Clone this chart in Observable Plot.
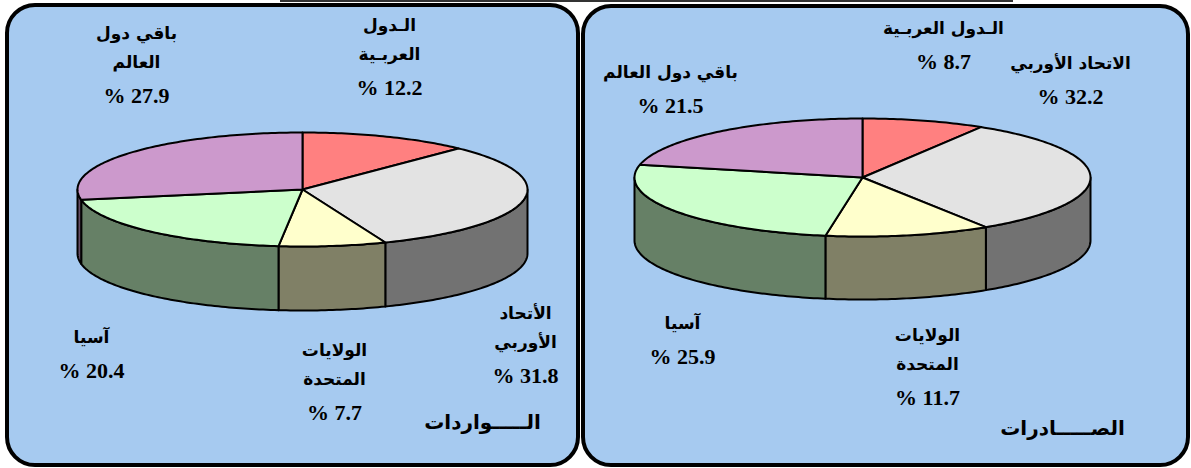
<!DOCTYPE html>
<html><head><meta charset="utf-8">
<script src="https://cdn.jsdelivr.net/npm/d3@7"></script>
<script src="https://cdn.jsdelivr.net/npm/@observablehq/plot@0.6"></script>
<style>
html,body{margin:0;padding:0;background:#fff;}
#wrap{position:relative;width:1191px;height:468px;overflow:hidden;}
.frame{position:absolute;box-sizing:border-box;border:4px solid #000;border-radius:30px;background:#A6CAF0;}
#topline{position:absolute;left:280px;top:0;width:733px;height:2px;background:#333;}
#chart{position:absolute;left:0;top:0;}
</style></head><body>
<div id="wrap">
 <div id="topline"></div>
 <div class="frame" style="left:5px;top:3px;width:575px;height:464px"></div>
 <div class="frame" style="left:581px;top:4px;width:609px;height:463px"></div>
 <div id="chart"></div>
</div>
<script>
// ---- data ----
const categories = ["الدول العربية", "الاتحاد الأوربي", "الولايات المتحدة", "آسيا", "باقي دول العالم"];
const importShares = [12.2, 31.8, 7.7, 20.4, 27.9];
const exportShares = [8.7, 32.2, 11.7, 25.9, 21.5];
const importLabels = ["الـدول\nالعربـية", "الأتحاد\nالأوربي", "الولايات\nالمتحدة", "آسيا", "باقي دول\nالعالم"];
const exportLabels = ["الـدول العربـية", "الاتحاد الأوربي", "الولايات\nالمتحدة", "آسيا", "باقي دول العالم"];
const panelTitles = ["الـــــواردات", "الصـــــادرات"];

// ---- styles / layout ----
const topColors = ["#FF8080", "#E3E3E3", "#FFFFCC", "#CCFFCC", "#CC99CC"];
const sideColor = c => { const r = d3.rgb(c); return d3.rgb(r.r / 2, r.g / 2, r.b / 2).formatHex(); };
const pies = [
  {cx: 302, cy: 189, rx: 225, ry: 57, depth: 64},
  {cx: 862, cy: 177, rx: 228, ry: 59, depth: 63}
];
const labelPos = [
  [[389, 25], [525, 313], [334, 350], [91, 337], [136, 33]],
  [[943, 28], [1070, 63], [927, 335], [682, 323], [670, 72]]
];
const titlePos = [[482, 422], [1062, 428]];
const lineGap = 29, valueGap = 33;

function piePolys(shares, g, panel) {
  const total = d3.sum(shares);
  let acc = 0;
  const sides = [], tops = [];
  const pt = (deg, dz) => { const t = deg * Math.PI / 180; return {x: g.cx + g.rx * Math.sin(t), y: g.cy - g.ry * Math.cos(t) + dz}; };
  const arc = (from, to, dz) => { const n = Math.max(2, Math.ceil(Math.abs(to - from))); return d3.range(n + 1).map(k => pt(from + (to - from) * k / n, dz)); };
  shares.forEach((v, i) => {
    const a0 = acc / total * 360, a1 = (acc + v) / total * 360; acc += v;
    tops.push(...[{x: g.cx, y: g.cy}, ...arc(a0, a1, 0)].map(p => ({...p, id: panel + "-top-" + i, fill: topColors[i], cat: categories[i]})));
    const s0 = Math.max(a0, 90), s1 = Math.min(a1, 270);
    if (s1 > s0) sides.push(...[...arc(s0, s1, 0), ...arc(s1, s0, g.depth)].map(p => ({...p, id: panel + "-side-" + i, fill: sideColor(topColors[i]), cat: categories[i]})));
  });
  return {sides, tops};
}

const P = [piePolys(importShares, pies[0], "imp"), piePolys(exportShares, pies[1], "exp")];
const polys = [...P[0].sides, ...P[1].sides, ...P[0].tops, ...P[1].tops];

const nameLines = [], valueTexts = [];
[[importShares, importLabels], [exportShares, exportLabels]].forEach(([shares, labels], p) => {
  shares.forEach((v, i) => {
    const [x, y] = labelPos[p][i];
    const lines = labels[i].split("\n");
    lines.forEach((t, k) => nameLines.push({x, y: y + k * lineGap, text: t}));
    valueTexts.push({x, y: y + (lines.length - 1) * lineGap + valueGap, text: "% " + v.toFixed(1)});
  });
});
const titles = panelTitles.map((t, p) => ({x: titlePos[p][0], y: titlePos[p][1], text: t}));

const chart = Plot.plot({
  width: 1191, height: 468, margin: 0,
  x: {domain: [0, 1191], range: [0, 1191], axis: null},
  y: {domain: [0, 468], range: [0, 468], axis: null},
  color: {type: "identity"},
  style: {background: "transparent", overflow: "visible"},
  marks: [
    Plot.line(polys, {x: "x", y: "y", z: "id", fill: "fill", stroke: "#000", strokeWidth: 2, curve: "linear-closed", strokeLinejoin: "round"}),
    Plot.text(nameLines, {x: "x", y: "y", text: "text", fontSize: 17, fontWeight: "bold", fontFamily: "DejaVu Sans", fill: "#000"}),
    Plot.text(valueTexts, {x: "x", y: "y", text: "text", fontSize: 22, fontWeight: "bold", fontFamily: "Liberation Serif", fill: "#000"}),
    Plot.text(titles, {x: "x", y: "y", text: "text", fontSize: 20, fontWeight: "bold", fontFamily: "DejaVu Sans", fill: "#000"})
  ]
});
document.getElementById("chart").appendChild(chart);
</script>
</body></html>
